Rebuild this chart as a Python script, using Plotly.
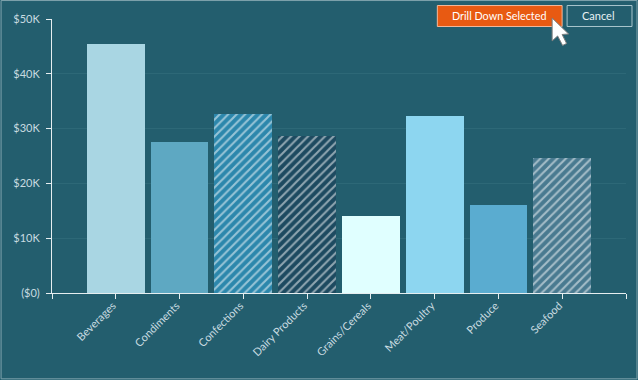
import plotly.graph_objects as go

categories = ["Beverages", "Condiments", "Confections", "Dairy Products",
              "Grains/Cereals", "Meat/Poultry", "Produce", "Seafood"]
sales = [45400, 27600, 32700, 28700, 14100, 32300, 16100, 24700]
bar_colors = ["#a9d6e3", "#5ea8c2", "#2c87ac", "#1d4a60",
              "#e0ffff", "#8dd6f0", "#5aacd0", "#497a90"]
stripe_colors = ["#a9d6e3", "#5ea8c2", "#6db2cb", "#6a8f9f",
                 "#e0ffff", "#8dd6f0", "#5aacd0", "#8fb0c0"]
pattern_shapes = ["", "", "/", "/", "", "", "", "/"]
y_ticks = [0, 10000, 20000, 30000, 40000, 50000]
y_labels = ["($0)", "$10K", "$20K", "$30K", "$40K", "$50K"]

W, H = 638, 380
L, R, T, B = 51.5, 626.5, 19, 293.5
BG = "#235e6e"
TXT = "#c8dbe0"
FONT = "Lato"


def px(x):
    return (x - L) / (R - L)


def py(y):
    return (B - y) / (B - T)


positions = list(range(1, len(categories) + 1))

fig = go.Figure(go.Bar(
    x=positions, y=sales, width=0.905,
    marker=dict(
        color=bar_colors, line=dict(width=0),
        pattern=dict(shape=pattern_shapes, fgcolor=stripe_colors,
                     bgcolor=bar_colors, size=6, solidity=0.35),
    ),
))

shapes = [
    dict(type="rect", xref="paper", yref="paper", x0=px(0.5), x1=px(W - 0.5),
         y0=py(0.5), y1=py(H - 0.5), line=dict(color="#7fa3ad", width=1),
         fillcolor="rgba(0,0,0,0)", layer="above"),
    dict(type="rect", xref="paper", yref="paper", x0=px(437.5), x1=px(562.5),
         y0=py(5.5), y1=py(26.5), line=dict(color="#f2b89a", width=1),
         fillcolor="#e85a12", layer="above"),
    dict(type="rect", xref="paper", yref="paper", x0=px(567.5), x1=px(632.5),
         y0=py(5.5), y1=py(26.5), line=dict(color="#a9c6cd", width=1),
         fillcolor=BG, layer="above"),
]
cursor = [(552.5, 18), (552.5, 41), (558, 36), (563, 45.5), (567, 43.5), (562.5, 34.5), (569, 34)]
path = "M " + " L ".join(f"{px(a):.5f} {py(b):.5f}" for a, b in cursor) + " Z"
shapes.append(dict(type="path", xref="paper", yref="paper", path=path,
                   fillcolor="#ffffff", line=dict(color="#7d7d7d", width=1), layer="above"))

annotations = [
    dict(text="Drill Down Selected", xref="paper", yref="paper", x=px(499.5), y=py(15.5),
         xanchor="center", yanchor="middle", showarrow=False,
         font=dict(color="#ffffff", size=10.8, family=FONT)),
    dict(text="Cancel", xref="paper", yref="paper", x=px(599), y=py(15.5),
         xanchor="center", yanchor="middle", showarrow=False,
         font=dict(color="#e8f2f4", size=11, family=FONT)),
]

fig.update_layout(
    width=W, height=H, autosize=False, showlegend=False,
    margin=dict(l=L, r=W - R, t=T, b=H - B, pad=0),
    paper_bgcolor=BG, plot_bgcolor=BG,
    font=dict(family=FONT, size=11, color=TXT),
    shapes=shapes, annotations=annotations, bargap=0,
    xaxis=dict(
        range=[0, len(categories) + 1], tickmode="array",
        tickvals=[0] + positions + [len(categories) + 1],
        ticktext=[""] + categories + [""],
        tickangle=-45, ticks="outside", ticklen=5, tickwidth=1, tickcolor="#e6eef0",
        showline=True, linecolor="#e6eef0", linewidth=1, showgrid=False, zeroline=False,
        tickfont=dict(size=11, color=TXT), ticklabelshift=-3, ticklabelstandoff=-4,
    ),
    yaxis=dict(
        range=[0, 50000], tickmode="array", tickvals=y_ticks, ticktext=y_labels,
        ticks="outside", ticklen=5, tickwidth=1, tickcolor="#e6eef0",
        showline=True, linecolor="#e6eef0", linewidth=1,
        showgrid=True, gridcolor="#2d6877", gridwidth=1, zeroline=False,
        tickfont=dict(size=11, color=TXT), ticklabelstandoff=4,
    ),
)

fig.write_html("out.html", config={"displayModeBar": False},
               post_script="document.body.style.margin='0';document.body.style.overflow='hidden';")
